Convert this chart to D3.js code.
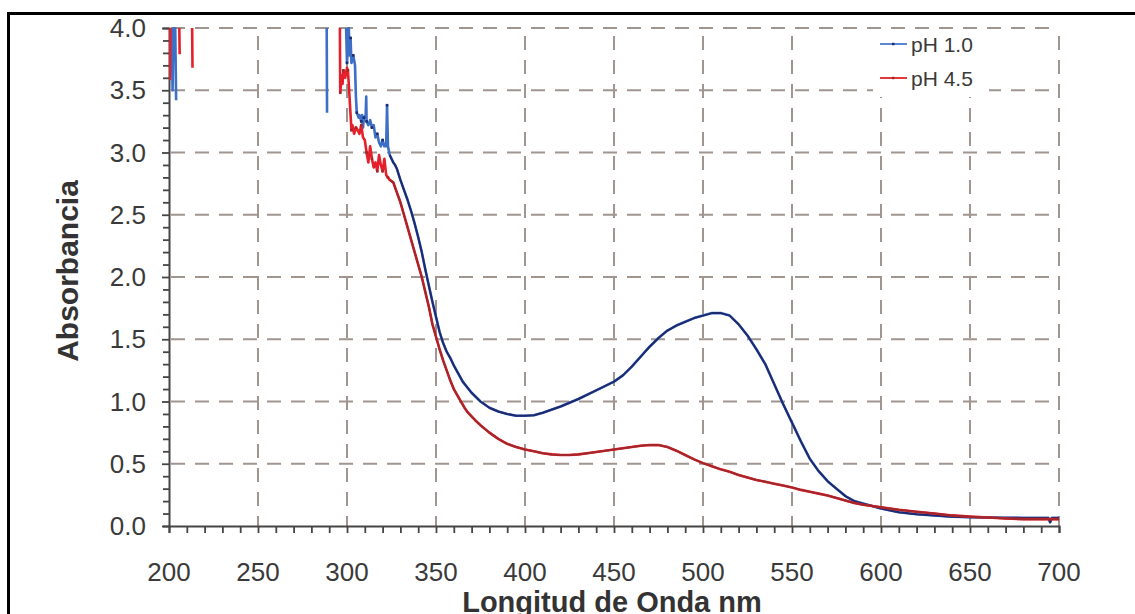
<!DOCTYPE html>
<html><head><meta charset="utf-8">
<script src="https://cdn.jsdelivr.net/npm/d3@7"></script>
<style>
html,body{margin:0;padding:0;background:#fff;}
svg{display:block;}
text{font-family:"Liberation Sans",Arial,Helvetica,sans-serif;}
</style></head>
<body>
<svg id="chart" width="1135" height="614"></svg>
<script>
// ---- DATA ----
const seriesNames = ["pH 1.0", "pH 4.5"];
const xTicks = [200,250,300,350,400,450,500,550,600,650,700];
const yTicks = [0.0,0.5,1.0,1.5,2.0,2.5,3.0,3.5,4.0];
// [wavelength nm, absorbance]; null = off scale (no trace)
const pH10 = [
 [201.5,4.0],[202,3.5],[202.5,4.0],[203.5,4.0],[204,3.42],null,
 [288.6,4.0],[288.8,3.32],null,
 [299.5,4.0],[300,3.72],[300.5,3.85],[301,4.0],[301.5,3.78],[302,3.92],[302.5,3.72],[303,3.75],[303.5,3.78],[304.5,3.7],
 [305,3.45],[305.5,3.32],[306.5,3.28],[307,3.3],[308,3.25],[308.5,3.3],[309,3.2],[309.5,3.28],[310.5,3.3],[310.8,3.45],
 [311,3.25],[312,3.22],[313,3.26],[314,3.2],[315,3.22],[316,3.12],[317,3.15],[318,3.08],[319,3.05],[320,3.1],[321,3.05],
 [322,3.05],[322.5,3.38],[323,3.05],[324,2.98],[325,2.95],[326,2.92],[327,2.9],[328,2.87],
 [330,2.78],[332,2.7],[334,2.62],[336,2.53],[338,2.43],[340,2.32],[342,2.2],[344,2.06],[346,1.93],[348,1.8],[350,1.68],
 [352,1.56],[354,1.47],[356,1.4],[358,1.35],[360,1.29],[365,1.16],[370,1.07],[375,1.0],[380,0.95],[385,0.92],[390,0.9],
 [395,0.886],[400,0.885],[405,0.89],[410,0.91],[420,0.96],[430,1.02],[440,1.09],[450,1.16],[455,1.21],[460,1.28],
 [465,1.36],[470,1.44],[475,1.51],[480,1.57],[485,1.61],[490,1.64],[495,1.67],[500,1.69],[505,1.71],[510,1.71],
 [515,1.69],[520,1.62],[525,1.53],[530,1.42],[535,1.3],[540,1.14],[545,0.98],[550,0.83],[555,0.68],[560,0.54],
 [565,0.44],[570,0.36],[575,0.3],[580,0.24],[585,0.2],[590,0.18],[595,0.16],[600,0.14],[610,0.11],[620,0.095],
 [630,0.085],[640,0.075],[650,0.07],[660,0.068],[670,0.066],[680,0.065],[690,0.065],[694,0.065],[695,0.03],[696,0.065],[700,0.065]
];
const pH45 = [
 [200.2,4.0],[200.5,3.59],[200.8,4.0],null,
 [205.8,4.0],[206,3.79],null,
 [213,4.0],[213.2,3.68],null,
 [296,4.0],[296.2,3.48],[297,3.62],[297.5,3.55],[298,3.66],[299,3.6],[300,3.68],[300.5,3.66],[301,3.55],[302,3.3],
 [302.5,3.18],[303,3.22],[304,3.15],[305,3.2],[306,3.18],[307,3.15],[308,3.22],[309,3.12],[310,3.1],[311,3.0],
 [312,2.92],[313,3.05],[314,2.95],[315,2.88],[316,2.92],[317,2.85],[318,2.98],[319,2.9],[320,2.85],[321,2.95],
 [322,2.82],[323,2.8],[324,2.78],[326,2.76],[328,2.68],
 [330,2.6],[332,2.5],[334,2.4],[336,2.3],[338,2.2],[340,2.1],[342,2.0],[344,1.88],[346,1.76],[348,1.62],[350,1.52],
 [352,1.42],[354,1.33],[356,1.25],[358,1.17],[360,1.1],[362,1.05],[364,1.0],[366,0.95],[368,0.91],[370,0.88],
 [372,0.85],[375,0.81],[380,0.75],[385,0.7],[390,0.66],[395,0.635],[400,0.615],[405,0.6],[410,0.585],[415,0.575],
 [420,0.57],[425,0.57],[430,0.575],[435,0.585],[440,0.595],[445,0.605],[450,0.615],[455,0.625],[460,0.635],
 [465,0.645],[470,0.65],[475,0.65],[480,0.635],[485,0.605],[490,0.57],[495,0.535],[500,0.505],[505,0.48],
 [510,0.455],[515,0.435],[520,0.41],[525,0.39],[530,0.37],[535,0.355],[540,0.34],[545,0.325],[550,0.31],
 [555,0.29],[560,0.275],[565,0.26],[570,0.245],[575,0.225],[580,0.205],[585,0.185],[590,0.17],[595,0.16],
 [600,0.15],[610,0.13],[620,0.115],[630,0.1],[640,0.085],[650,0.075],[660,0.068],[670,0.06],[680,0.055],[690,0.055],[700,0.055]
];

// ---- LAYOUT ----
const svg = d3.select("#chart");
const L = 169, R = 1059, T = 28, B = 526;
const x = d3.scaleLinear().domain([200,700]).range([L,R]);
const y = d3.scaleLinear().domain([0,4]).range([B,T]);
const gridColor = "#a0958f", axisColor = "#454545", textColor = "#3a3a3a";
const series = [
  {name: seriesNames[0], data: pH10, light: "#3d6fc6", dark: "#1d2a70", legend:"#5a86d6"},
  {name: seriesNames[1], data: pH45, light: "#e4202a", dark: "#a3262b", legend:"#e23a3a"}
];

// frame
svg.append("path").attr("d","M8.5,614 V13.5 H1135").attr("fill","none").attr("stroke","#000").attr("stroke-width",3);

// grid
const grid = svg.append("g").attr("stroke",gridColor).attr("stroke-width",2).attr("fill","none");
grid.selectAll("line.v").data(xTicks.slice(1)).join("line").attr("class","v")
  .attr("x1",d=>x(d)).attr("x2",d=>x(d)).attr("y1",B).attr("y2",T)
  .attr("stroke-dasharray","14,10").attr("stroke-dashoffset",4);
grid.selectAll("line.h").data(yTicks.slice(1)).join("line").attr("class","h")
  .attr("x1",L).attr("x2",R).attr("y1",d=>y(d)).attr("y2",d=>y(d))
  .attr("stroke-dasharray","14,10").attr("stroke-dashoffset",-2);

// legend background (covers grid)
const lg = svg.append("g");
lg.append("rect").attr("x",873).attr("y",T+1).attr("width",116).attr("height",68).attr("fill","#fff");

// axes
const xAxis = d3.axisBottom(x).tickValues(d3.range(200,701,10)).tickSize(7).tickFormat("");
const gx = svg.append("g").attr("transform",`translate(0,${B})`).call(xAxis);
gx.selectAll("line").attr("stroke",axisColor).attr("stroke-width",1.8);
gx.select(".domain").attr("stroke",axisColor).attr("stroke-width",2);
const yAxis = d3.axisLeft(y).tickValues(d3.range(0,41).map(i=>i/10)).tickSize(6).tickFormat("");
const gy = svg.append("g").attr("transform",`translate(${L},0)`).call(yAxis);
gy.selectAll("line").attr("stroke",axisColor).attr("stroke-width",1.8)
  .attr("x2",(d,i)=>i%5===0?-7:-6);
gy.select(".domain").attr("stroke",axisColor).attr("stroke-width",2);

// tick labels
svg.append("g").selectAll("text").data(xTicks).join("text")
  .attr("x",d=>x(d)).attr("y",581).attr("text-anchor","middle")
  .attr("font-size",26).attr("fill",textColor).text(d=>d);
svg.append("g").selectAll("text").data(yTicks).join("text")
  .attr("x",146).attr("y",d=>y(d)+9).attr("text-anchor","end")
  .attr("font-size",26).attr("fill",textColor).text(d=>d.toFixed(1));

// axis titles
svg.append("text").attr("x",612).attr("y",612).attr("text-anchor","middle")
  .attr("font-size",29).attr("font-weight","bold").attr("fill","#333").text("Longitud de Onda nm");
svg.append("text").attr("transform",`translate(78,${(T+B)/2-6}) rotate(-90)`).attr("text-anchor","middle")
  .attr("font-size",30).attr("font-weight","bold").attr("fill","#333").text("Absorbancia");

// clip
svg.append("clipPath").attr("id","clip").append("rect").attr("x",L).attr("y",T-1).attr("width",R-L+1).attr("height",B-T+2);
const plot = svg.append("g").attr("clip-path","url(#clip)");

const line = d3.line().defined(d=>d!==null).x(d=>x(d[0])).y(d=>y(d[1]));
series.forEach(s=>{
  plot.append("path").datum(s.data).attr("d",line).attr("fill","none")
    .attr("stroke",s.light).attr("stroke-width",2.6).attr("stroke-linejoin","round");
  const smooth = s.data.filter(d=>d!==null && d[0]>=324);
  plot.append("path").datum(smooth).attr("d",line).attr("fill","none")
    .attr("stroke",s.dark).attr("stroke-width",2).attr("stroke-linejoin","round");
  const noisy = s.data.filter(d=>d!==null && d[0]>290 && d[0]<324 && d[1]<4);
  plot.append("g").selectAll("rect").data(noisy.filter((d,i)=>i%3===0)).join("rect")
    .attr("x",d=>x(d[0])-1.3).attr("y",d=>y(d[1])-1.3).attr("width",2.6).attr("height",2.6).attr("fill",s.dark);
});

// legend
series.forEach((s,i)=>{
  const ly = 44 + i*34;
  lg.append("line").attr("x1",880).attr("x2",907).attr("y1",ly).attr("y2",ly).attr("stroke",s.legend).attr("stroke-width",2);
  lg.append("rect").attr("x",892).attr("y",ly-1.2).attr("width",2.5).attr("height",2.4).attr("fill",s.dark);
  lg.append("text").attr("x",911).attr("y",ly+7.5).attr("font-size",21).attr("fill",textColor).text(s.name);
});
</script>
</body></html>
